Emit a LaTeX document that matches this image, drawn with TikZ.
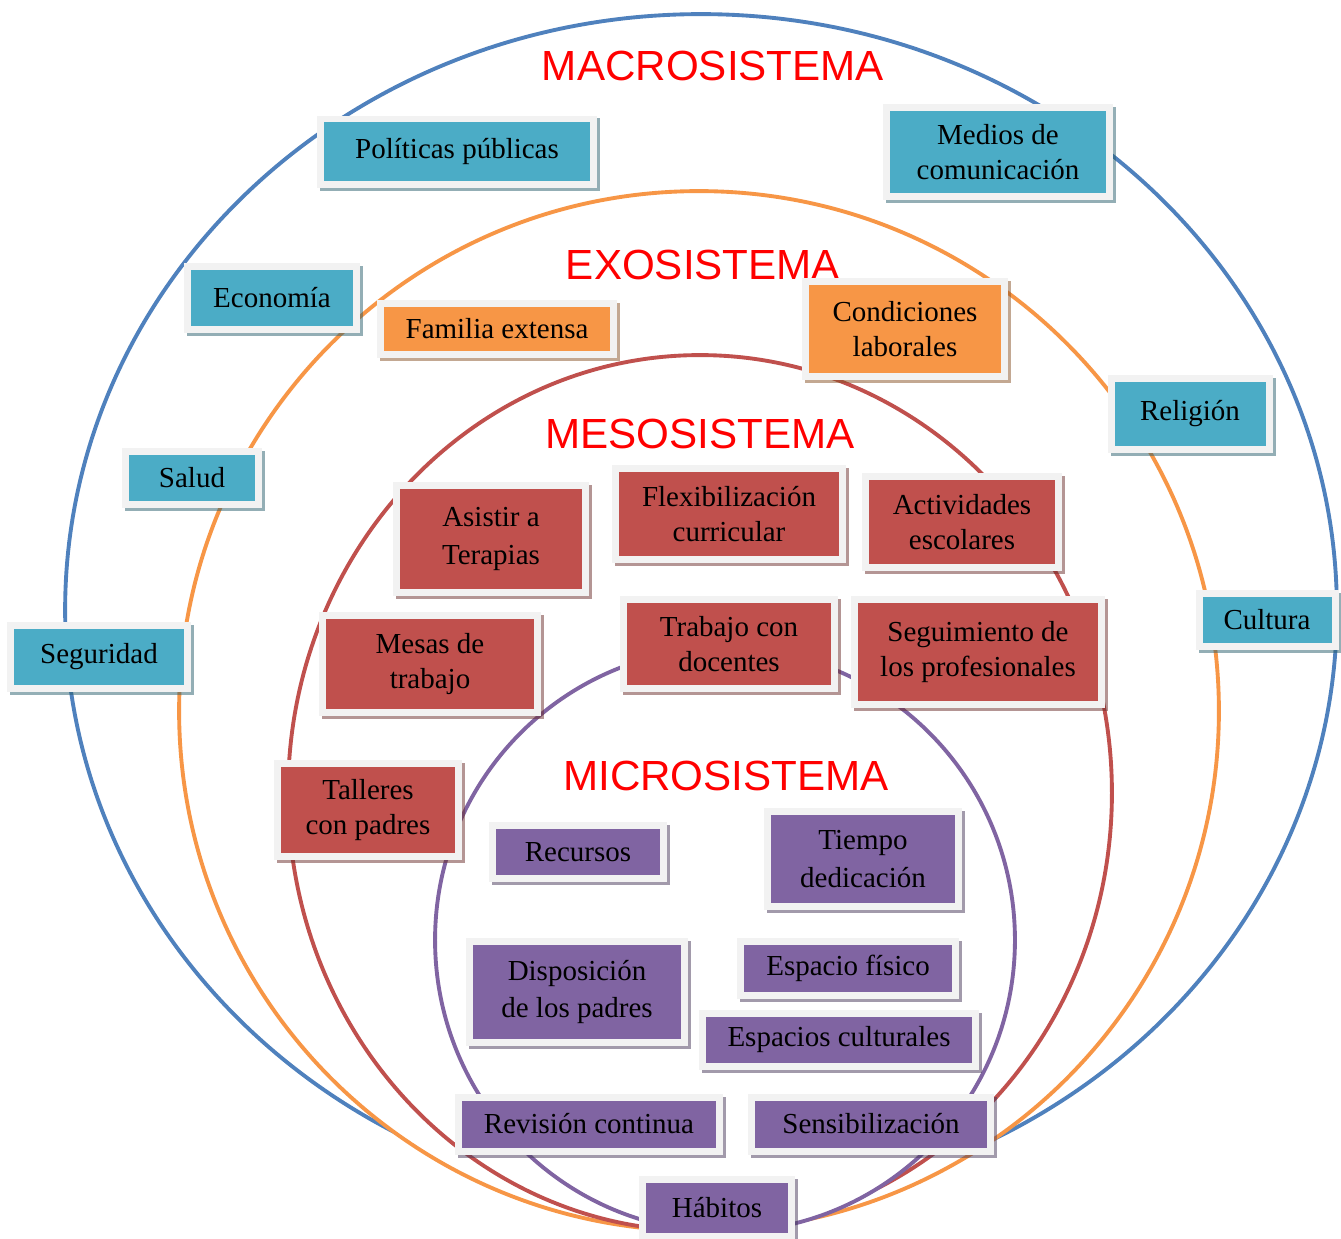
\documentclass[tikz,border=0pt]{standalone}
\usepackage{fontspec}
\setmainfont{Liberation Serif}
\newfontfamily\titlefont{Liberation Sans}
\usepackage{tikz}
\usetikzlibrary{shadows}

\definecolor{macroblue}{HTML}{4F81BD}
\definecolor{exoorange}{HTML}{F79646}
\definecolor{mesored}{HTML}{C0504D}
\definecolor{micropurple}{HTML}{8064A2}
\definecolor{boxblue}{HTML}{4BACC6}
\definecolor{boxframe}{HTML}{F2F2F2}

\tikzset{
  ring/.style={line width=2.2pt, fill=white},
  systitle/.style={text=red, font=\titlefont\fontsize{24}{28}\selectfont, inner sep=0pt},
  sysbox/.style={rectangle, fill=boxframe, inner sep=0pt, align=center,
    font=\fontsize{16.5}{19.5}\selectfont,
    path picture={\fill[#1] ([shift={(0.14cm,0.14cm)}]path picture bounding box.south west)
      rectangle ([shift={(-0.14cm,-0.14cm)}]path picture bounding box.north east);},
    drop shadow={fill=#1!55!black, opacity=0.5, shadow xshift=0.06cm, shadow yshift=-0.06cm}},
  wide/.style={font=\fontsize{16.5}{21.5}\selectfont}
}

\begin{document}
\begin{tikzpicture}[x=0.02cm, y=-0.02cm]
\useasboundingbox (0,0) rectangle (1341,1239);

% Círculos
\draw[ring, draw=macroblue] (701,610) ellipse [x radius=12.72cm, y radius=11.92cm];
\draw[ring, draw=exoorange] (699,711) ellipse [x radius=10.4cm, y radius=10.4cm];
\draw[ring, draw=mesored] (700,793) ellipse [x radius=8.24cm, y radius=8.76cm];
\draw[ring, draw=micropurple] (725,940) ellipse [x radius=5.8cm, y radius=5.84cm];

% Títulos
\node[systitle] (macro) at (713,66) {MACROSISTEMA};
\node[systitle] (exo) at (703,265) {EXOSISTEMA};
\node[systitle] (meso) at (700,434) {MESOSISTEMA};
\node[systitle] (micro) at (726,776) {MICROSISTEMA};

% Macrosistema
\node[sysbox=boxblue, minimum width=5.62cm, minimum height=1.46cm] (politicas) at (457,152) {Políticas públicas};
\node[sysbox=boxblue, minimum width=4.6cm, minimum height=1.94cm] (medios) at (998,152) {Medios de\\comunicación};
\node[sysbox=boxblue, minimum width=3.52cm, minimum height=1.42cm] (economia) at (272,298) {Economía};
\node[sysbox=boxblue, minimum width=3.3cm, minimum height=1.56cm] (religion) at (1190,414) {Religión};
\node[sysbox=boxblue, minimum width=2.8cm, minimum height=1.22cm] (salud) at (192,478) {Salud};
\node[sysbox=boxblue, minimum width=2.86cm, minimum height=1.22cm] (cultura) at (1267,620) {Cultura};
\node[sysbox=boxblue, minimum width=3.68cm, minimum height=1.42cm] (seguridad) at (99,657) {Seguridad};

% Exosistema
\node[sysbox=exoorange, minimum width=4.8cm, minimum height=1.16cm] (familia) at (497,329) {Familia extensa};
\node[sysbox=exoorange, minimum width=4.12cm, minimum height=2.04cm] (condiciones) at (905,329) {Condiciones\\laborales};

% Mesosistema
\node[sysbox=mesored, wide, minimum width=3.94cm, minimum height=2.28cm] (terapias) at (491,539) {Asistir a\\Terapias};
\node[sysbox=mesored, minimum width=4.7cm, minimum height=1.96cm] (flexibilizacion) at (729,514) {Flexibilización\\curricular};
\node[sysbox=mesored, minimum width=4.0cm, minimum height=1.96cm] (actividades) at (962,522) {Actividades\\escolares};
\node[sysbox=mesored, minimum width=4.44cm, minimum height=2.1cm] (mesas) at (430,664) {Mesas de\\trabajo};
\node[sysbox=mesored, minimum width=4.36cm, minimum height=1.92cm] (docentes) at (729,644) {Trabajo con\\docentes};
\node[sysbox=mesored, minimum width=5.1cm, minimum height=2.24cm] (seguimiento) at (978,652) {Seguimiento de\\los profesionales};
\node[sysbox=mesored, minimum width=3.76cm, minimum height=2.0cm] (talleres) at (368,810) {Talleres\\con padres};

% Microsistema
\node[sysbox=micropurple, minimum width=3.58cm, minimum height=1.2cm] (recursos) at (578,852) {Recursos};
\node[sysbox=micropurple, wide, minimum width=3.96cm, minimum height=2.04cm] (tiempo) at (863,859) {Tiempo\\dedicación};
\node[sysbox=micropurple, wide, minimum width=4.44cm, minimum height=2.18cm] (disposicion) at (577,992) {Disposición\\de los padres};
\node[sysbox=micropurple, minimum width=4.46cm, minimum height=1.22cm] (espaciofisico) at (848,968) {Espacio físico};
\node[sysbox=micropurple, minimum width=5.6cm, minimum height=1.2cm] (espacioscult) at (839,1040) {Espacios culturales};
\node[sysbox=micropurple, minimum width=5.36cm, minimum height=1.22cm] (revision) at (589,1124) {Revisión continua};
\node[sysbox=micropurple, minimum width=4.94cm, minimum height=1.22cm] (sensibilizacion) at (871,1124) {Sensibilización};
\node[sysbox=micropurple, minimum width=3.14cm, minimum height=1.28cm] (habitos) at (717,1208) {Hábitos};
\end{tikzpicture}
\end{document}
